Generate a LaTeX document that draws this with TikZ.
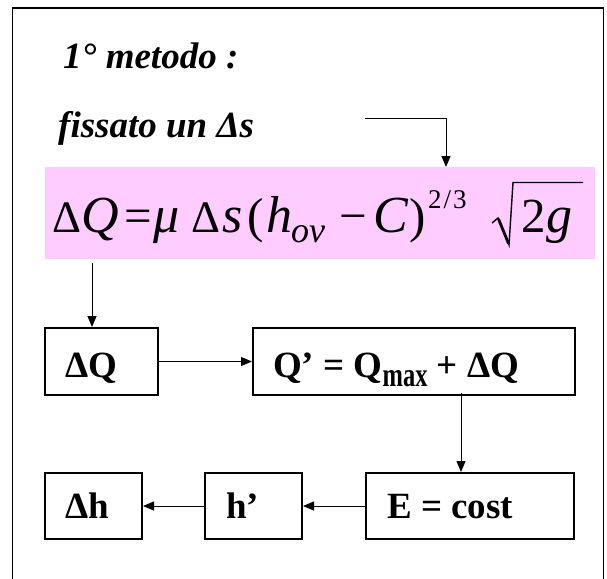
\documentclass[tikz,border=0pt]{standalone}
\usepackage{fontspec}
\setmainfont{Liberation Serif}
\usetikzlibrary{arrows.meta}
\definecolor{pinkfill}{RGB}{255,204,255}
\tikzset{
  box/.style={draw, line width=2pt, anchor=north west, inner sep=0pt},
  frame/.style={draw, line width=1.4pt},
  arr/.style={line width=1pt, -{Triangle[length=11pt,width=9pt]}},
  boxtext/.style={anchor=base west, inner sep=0pt, font=\fontsize{37}{40}\selectfont\bfseries},
  headtext/.style={anchor=base west, inner sep=0pt, font=\fontsize{37}{40}\selectfont\bfseries\itshape},
  ftext/.style={anchor=base west, inner sep=0pt, font=\fontsize{49}{52}\selectfont},
  fdelta/.style={anchor=base west, inner sep=0pt, font=\fontsize{45}{48}\selectfont},
  fit/.style={anchor=base west, inner sep=0pt, font=\fontsize{52}{56}\selectfont\itshape},
}
\newcommand{\submax}{\raisebox{-9pt}{\scalebox{0.72}[1]{\fontsize{34}{36}\selectfont max}}}
\begin{document}
\begin{tikzpicture}[x=1pt,y=-1pt]
\useasboundingbox (0,0) rectangle (607,578);
% outer frame (open at the bottom)
\draw[frame] (12.5,590) -- (12.5,8) -- (603.5,8) -- (603.5,590);
% headings
\node[headtext] (t1) at (63,68) {1° metodo :};
\node[headtext] (t2) at (58,137) {fissato un Δs};
% formula band
\node[fill=pinkfill, anchor=north west, minimum width=550pt, minimum height=92pt, inner sep=0pt] (pink) at (44.5,167) {};
\node[fdelta] (f1) at (52,232) {Δ};
\node[fit] (f2) at (81,232) {Q};
\node[ftext] (f3) at (124,232) {=};
\node[fit] (f4) at (153,232) {μ};
\node[fdelta] (f5) at (191,232) {Δ};
\node[fit] (f6) at (222,232) {s};
\node[ftext] (f7) at (247,232) {(};
\node[fit] (f8) at (266,232) {h};
\node[fit, font=\fontsize{36}{38}\selectfont\itshape] (f9) at (291,242) {ov};
\node[ftext] (f10) at (339,232) {−};
\node[fit] (f11) at (373,232) {C};
\node[ftext] (f12) at (409,232) {)};
\node[ftext, font=\fontsize{27}{30}\selectfont] (f13) at (428,208) {2\kern2pt/\kern2pt3};
\node[ftext] (f14) at (521,232) {2};
\node[fit] (f15) at (546,232) {g};
\draw[line width=1.4pt, line join=miter] (492,223) -- (498,218) -- (509,245) -- (513,182.5) -- (583,182.5);
\draw[line width=2.8pt] (498.5,219) -- (508.5,243.5);
% boxes
\node[box, minimum width=113pt, minimum height=67pt] (dq) at (44,327) {};
\node[box, minimum width=322pt, minimum height=67pt] (qp) at (252,327) {};
\node[box, minimum width=97pt, minimum height=66pt] (dh) at (44,472) {};
\node[box, minimum width=97pt, minimum height=66pt] (hp) at (204,472) {};
\node[box, minimum width=208pt, minimum height=66pt] (ec) at (365,472) {};
% box texts
\node[boxtext] (dqt) at (65,377) {ΔQ};
\node[boxtext] (qpt) at (273,377) {Q’ = Q\submax{} + ΔQ};
\node[boxtext] (dht) at (65,518) {Δh};
\node[boxtext] (hpt) at (226,518) {h’};
\node[boxtext] (ect) at (387,518) {E = cost};
% connectors
\coordinate (a1s) at (365,118);
\coordinate (a1e) at (446,167);
\draw[arr] (a1s) -| (a1e);
\coordinate (a2s) at (92,263);
\coordinate (a2e) at (92,327);
\draw[arr] (a2s) -- (a2e);
\draw[arr] (dq.east) -- (qp.west);
\coordinate (a4s) at (461,393);
\coordinate (a4e) at (461,472);
\draw[arr] (a4s) -- (a4e);
\draw[arr] (ec.west) -- (hp.east);
\draw[arr] (hp.west) -- (dh.east);
\end{tikzpicture}
\end{document}
